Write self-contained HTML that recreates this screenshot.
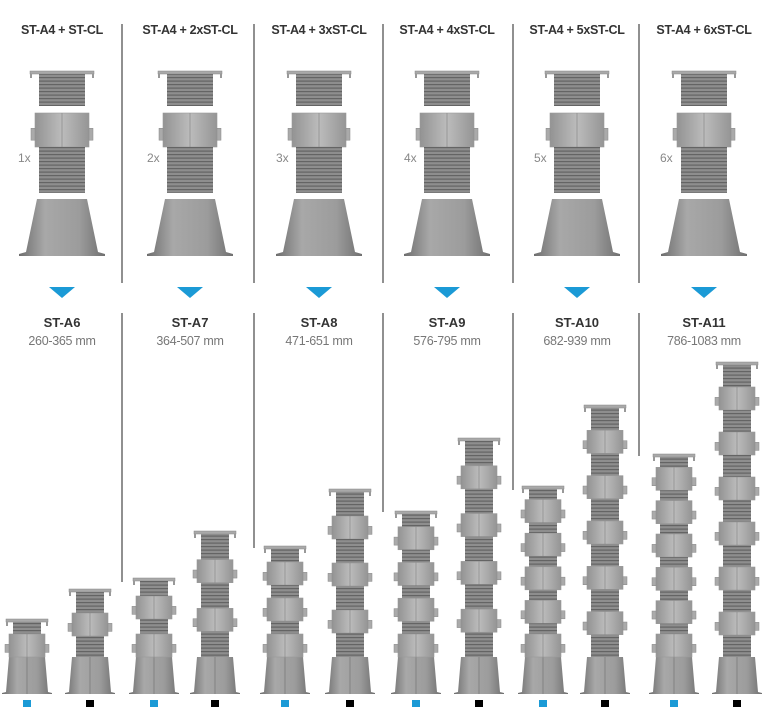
<!DOCTYPE html>
<html><head><meta charset="utf-8"><style>
body{margin:0;background:#fff;width:768px;height:718px;overflow:hidden;position:relative;font-family:"Liberation Sans Narrow","Liberation Sans",sans-serif}
.t{position:absolute;width:130px;text-align:center;font-size:12.5px;font-weight:bold;color:#333;letter-spacing:-0.3px}
.n{position:absolute;width:130px;text-align:center;font-size:13px;font-weight:bold;color:#333}
.r{position:absolute;width:130px;text-align:center;font-size:12.5px;color:#777;letter-spacing:-0.3px}
.x{position:absolute;font-size:12px;color:#888}
svg{position:absolute;left:0;top:0}
</style></head><body>
<svg id="s" width="768" height="718" viewBox="0 0 768 718">
<defs>
<pattern id="th" width="4" height="3.5" patternUnits="userSpaceOnUse"><rect width="4" height="3.5" fill="#8e8e8e"/><rect width="4" height="1.2" fill="#646464"/></pattern>
<linearGradient id="rg" x1="0" x2="1"><stop offset="0" stop-color="#939393"/><stop offset="0.5" stop-color="#bcbcbc"/><stop offset="1" stop-color="#959595"/></linearGradient>
<linearGradient id="bg" x1="0" x2="1"><stop offset="0" stop-color="#6e6e6e"/><stop offset="0.3" stop-color="#a8a8a8"/><stop offset="0.7" stop-color="#9c9c9c"/><stop offset="1" stop-color="#707070"/></linearGradient>
</defs>
<g id="g"></g>
</svg>
<div class="t" style="left:-3px;top:23px">ST-A4 + ST-CL</div>
<div class="t" style="left:125px;top:23px">ST-A4 + 2xST-CL</div>
<div class="t" style="left:254px;top:23px">ST-A4 + 3xST-CL</div>
<div class="t" style="left:382px;top:23px">ST-A4 + 4xST-CL</div>
<div class="t" style="left:512px;top:23px">ST-A4 + 5xST-CL</div>
<div class="t" style="left:639px;top:23px">ST-A4 + 6xST-CL</div>
<div class="x" style="left:18px;top:151px">1x</div>
<div class="x" style="left:147px;top:151px">2x</div>
<div class="x" style="left:276px;top:151px">3x</div>
<div class="x" style="left:404px;top:151px">4x</div>
<div class="x" style="left:534px;top:151px">5x</div>
<div class="x" style="left:660px;top:151px">6x</div>
<div class="n" style="left:-3px;top:315px">ST-A6</div>
<div class="n" style="left:125px;top:315px">ST-A7</div>
<div class="n" style="left:254px;top:315px">ST-A8</div>
<div class="n" style="left:382px;top:315px">ST-A9</div>
<div class="n" style="left:512px;top:315px">ST-A10</div>
<div class="n" style="left:639px;top:315px">ST-A11</div>
<div class="r" style="left:-3px;top:334px">260-365 mm</div>
<div class="r" style="left:125px;top:334px">364-507 mm</div>
<div class="r" style="left:254px;top:334px">471-651 mm</div>
<div class="r" style="left:382px;top:334px">576-795 mm</div>
<div class="r" style="left:512px;top:334px">682-939 mm</div>
<div class="r" style="left:639px;top:334px">786-1083 mm</div>
<script>
var g=document.getElementById('g'),h='';
function R(x,y,w,hh,f,extra){h+='<rect x="'+x+'" y="'+y+'" width="'+w+'" height="'+hh+'" fill="'+f+'" '+(extra||'')+'/>';}
function thread(cx,y,hh,w){R(cx-w/2,y,w,hh,'url(#th)');}
function ring(cx,y,hh,w){R(cx-w/2,y,w,hh,'url(#rg)','stroke="#999" stroke-width="0.6"');h+='<line x1="'+cx+'" y1="'+y+'" x2="'+cx+'" y2="'+(y+hh)+'" stroke="#888" stroke-width="0.7"/>';R(cx-w/2-4,y+hh*0.45,4,hh*0.35,'#aaa','stroke="#888" stroke-width="0.5"');R(cx+w/2,y+hh*0.45,4,hh*0.35,'#aaa','stroke="#888" stroke-width="0.5"');}
function base(cx,top,bot,wt,wb){h+='<polygon points="'+(cx-wt/2)+','+top+' '+(cx+wt/2)+','+top+' '+(cx+wb/2-4)+','+(bot-2)+' '+(cx+wb/2)+','+(bot-1)+' '+(cx+wb/2)+','+bot+' '+(cx-wb/2)+','+bot+' '+(cx-wb/2)+','+(bot-1)+' '+(cx-wb/2+4)+','+(bot-2)+'" fill="url(#bg)"/>';h+='<line x1="'+cx+'" y1="'+top+'" x2="'+cx+'" y2="'+bot+'" stroke="#7a7a7a" stroke-width="0.8"/>';}
function cap(cx,y,w){R(cx-w/2,y,w,3,'#a9a9a9','stroke="#888" stroke-width="0.5"');R(cx-w/2,y+3,2,4,'#999');R(cx+w/2-2,y+3,2,4,'#999');}
function ped(cx,top,n,tall){var bt=657,bb=694;base(cx,bt,bb,36,50);cap(cx,top,42);var avail=bt-(top+3),rh=23,nt=tall?n+1:n,th=(avail-n*rh)/nt,y=top+3;
for(var i=0;i<n;i++){thread(cx,y,th,28);y+=th;ring(cx,y,rh,36);y+=rh;}
if(tall){thread(cx,y,th,28);}}
var cols=[[27,90,619,589],[154,215,578,531],[285,350,546,489],[416,479,511,438],[543,605,486,405],[674,737,454,362]];
cols.forEach(function(c,i){ped(c[0],c[2],i+1,false);ped(c[1],c[3],i+1,true);
R(c[0]-4,700,8,7,'#1b9ad6');R(c[1]-4,700,8,7,'#000');});
[62,190,319,447,577,704].forEach(function(cx){cap(cx,71,64);thread(cx,74,32,46);ring(cx,113,34,54);thread(cx,147,46,46);
h+='<polygon points="'+(cx-25)+',199 '+(cx+25)+',199 '+(cx+36)+',252 '+(cx+43)+',254 '+(cx+43)+',256 '+(cx-43)+',256 '+(cx-43)+',254 '+(cx-36)+',252" fill="url(#bg)"/>';
h+='<polygon points="'+(cx-13)+',287 '+(cx+13)+',287 '+cx+',298" fill="#1b9ad6"/>';});
[[122,582],[254,548],[383,512],[513,490],[639,456]].forEach(function(d){h+='<line x1="'+d[0]+'" y1="24" x2="'+d[0]+'" y2="283" stroke="#555" stroke-width="1.3"/><line x1="'+d[0]+'" y1="313" x2="'+d[0]+'" y2="'+d[1]+'" stroke="#555" stroke-width="1.3"/>';});
g.innerHTML=h;
</script>
</body></html>
